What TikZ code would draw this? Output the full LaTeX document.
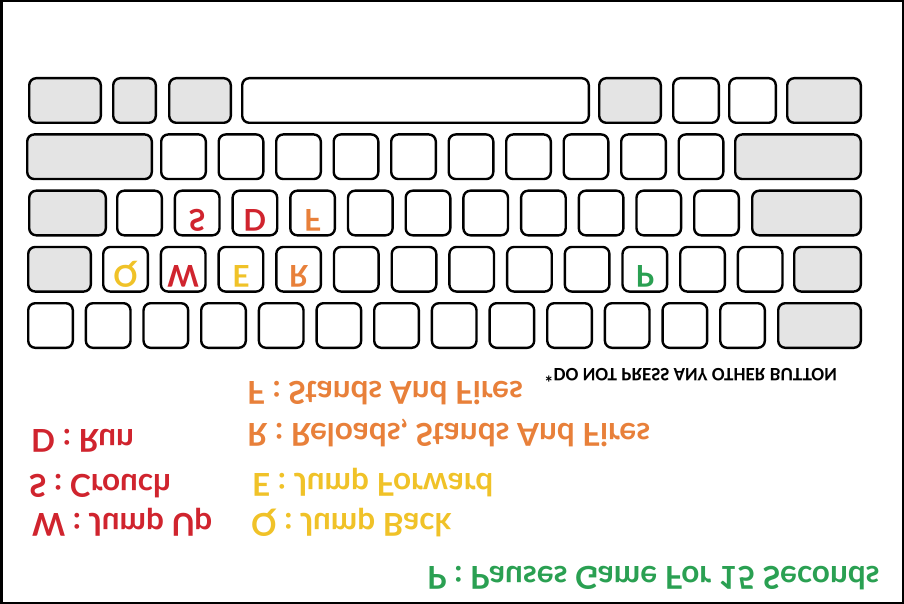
\documentclass[tikz,border=0pt]{standalone}
\usepackage{fontspec}
\setmainfont{Lato}
\newfontfamily\notefont{Carlito}
\usepackage{tikz}
\usetikzlibrary{calc}

\definecolor{keygrey}{RGB}{228,228,228}
\definecolor{movered}{RGB}{208,36,46}
\definecolor{moveorange}{RGB}{232,128,58}
\definecolor{moveyellow}{RGB}{240,194,40}
\definecolor{movegreen}{RGB}{42,160,82}

\tikzset{
  keycap/.style={draw=black, line width=2.4pt, rounded corners=7pt, fill=white},
  modkey/.style={keycap, fill=keygrey},
  keylabel/.style={font=\fontsize{30}{30}\selectfont\bfseries, inner sep=0pt,
                   text height=0.72em, text depth=0pt, transform shape},
  legend/.style={font=\fontsize{31.5}{31.5}\selectfont\bfseries, anchor=west, inner sep=0pt,
                 text height=0.72em, text depth=0pt, transform shape}
}

\begin{document}
\begin{tikzpicture}[x=1pt,y=1pt,yscale=-1,xscale=1]
\useasboundingbox (0,0) rectangle (904,604);

%Frame
\draw [line width=2.5pt] (1.25,1.25) rectangle (902.75,602.75);

%Row 1 (space bar)
\draw [modkey] (29.2,78.2) rectangle (100.8,122.8);
\draw [modkey] (113.2,78.2) rectangle (155.8,122.8);
\draw [modkey] (169.2,78.2) rectangle (230.8,122.8);
\draw [keycap] (242.2,78.2) rectangle (588.8,122.8);
\draw [modkey] (599.2,78.2) rectangle (660.8,122.8);
\draw [keycap] (673.2,78.2) rectangle (718.8,122.8);
\draw [keycap] (729.2,78.2) rectangle (775.8,122.8);
\draw [modkey] (787.2,78.2) rectangle (860.8,122.8);

%Row 2
\draw [modkey] (27.2,134.45) rectangle (151.8,179.05);
\foreach \i in {0,...,9}
  \draw [keycap] ({161.2+57.5*\i},134.45) rectangle ++(44.6,44.6);
\draw [modkey] (735.2,134.45) rectangle (860.8,179.05);

%Row 3
\draw [modkey] (29.2,190.7) rectangle (105.8,235.3);
\foreach \i in {0,...,10}
  \draw [keycap] ({117.2+57.7*\i},190.7) rectangle ++(44.6,44.6);
\draw [modkey] (752.2,190.7) rectangle (860.8,235.3);

%Row 4
\draw [modkey] (28.2,246.95) rectangle (90.8,291.55);
\foreach \i in {0,...,11}
  \draw [keycap] ({103.2+57.7*\i},246.95) rectangle ++(44.6,44.6);
\draw [modkey] (794.2,246.95) rectangle (860.8,291.55);

%Row 5
\foreach \i in {0,...,12}
  \draw [keycap] ({28.2+57.67*\i},303.2) rectangle ++(44.6,44.6);
\draw [modkey] (778.2,303.2) rectangle (860.8,347.8);

% Key labels
\node [keylabel, text=movered] (keyS) at (197.2,213) {S};
\node [keylabel, text=movered] (keyD) at (254.9,213) {D};
\node [keylabel, text=moveorange] (keyF) at (312.6,213) {F};
\node [keylabel, text=moveyellow] (keyQ) at (125.5,269.25) {Q};
\node [keylabel, text=movered] (keyW) at (183.2,269.25) {W};
\node [keylabel, text=moveyellow] (keyE) at (240.9,269.25) {E};
\node [keylabel, text=moveorange] (keyR) at (298.6,269.25) {R};
\node [keylabel, text=movegreen] (keyP) at (644.8,269.25) {P};

% Text Node
\node [font=\notefont\fontsize{19}{19}\selectfont\bfseries, anchor=east, inner sep=0pt,
       text height=0.64em, text depth=0pt, transform shape] (note) at (837,372) {*DO NOT PRESS ANY OTHER BUTTON};

% Legend
\node [legend, text=moveorange] (legF) at (247,385) {F : Stands And Fires};
\node [legend, text=moveorange] (legR) at (247,427) {R : Reloads, Stands And Fires};
\node [legend, text=movered] (legD) at (31,433) {D : Run};
\node [legend, text=movered] (legS) at (29,478) {S : Crouch};
\node [legend, text=moveyellow] (legE) at (252,477) {E : Jump Forward};
\node [legend, text=movered] (legW) at (32,517) {W : Jump Up};
\node [legend, text=moveyellow] (legQ) at (251,517) {Q : Jump Back};
\node [legend, text=movegreen] (legP) at (427,570) {P : Pauses Game For 15 Seconds};

\end{tikzpicture}
\end{document}
